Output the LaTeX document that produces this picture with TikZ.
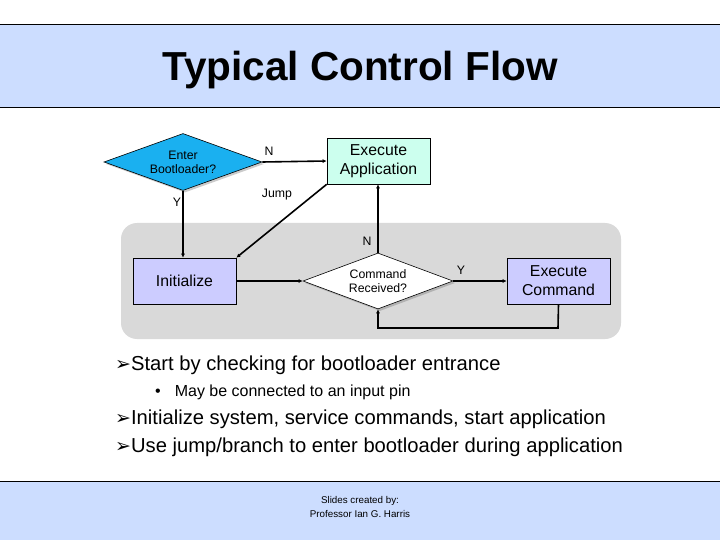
\documentclass[tikz,border=0pt]{standalone}
\usepackage{fontspec}
\setmainfont{Liberation Sans}
\newfontfamily\dejavu{DejaVu Sans}
\newcommand\arrmark{{\dejavu\fontsize{19}{22}\selectfont ➢}}
\usetikzlibrary{shapes.geometric,arrows.meta,shadows}
\definecolor{bandblue}{RGB}{204,221,255}
\definecolor{diamblue}{RGB}{26,176,240}
\definecolor{mint}{RGB}{204,255,238}
\definecolor{lav}{RGB}{204,204,255}
\definecolor{regiongray}{RGB}{217,217,217}
\tikzset{
  box/.style={draw=black, line width=0.6pt, minimum width=103pt, minimum height=46pt, inner sep=0pt, align=center, font=\fontsize{15.8}{19}\selectfont},
  dec/.style={diamond, draw=black, line width=0.6pt, inner sep=0pt, align=center, font=\fontsize{12.3}{14}\selectfont},
  conn/.style={line width=1.6pt, -{Latex[length=4pt,width=4pt]}},
  lbl/.style={font=\fontsize{12.3}{14}\selectfont, inner sep=0pt},
  bul/.style={anchor=west, inner sep=0pt, font=\fontsize{20.2}{24}\selectfont},
}
\begin{document}
\begin{tikzpicture}[x=1pt,y=-1pt]
\useasboundingbox (0,0) rectangle (720,540);
\fill[white] (0,0) rectangle (720,540);
% title band
\fill[bandblue] (0,24) rectangle (720,107);
\draw[line width=0.8pt] (0,24) -- (720,24) (0,107) -- (720,107);
\node[font=\fontsize{40.5}{46}\selectfont\bfseries] (title) at (360,70) {Typical Control Flow};
% bottom band
\fill[bandblue] (0,481) rectangle (720,540);
\draw[line width=0.8pt] (0,481) -- (720,481);
\node[align=center, font=\fontsize{9.8}{13.5}\selectfont] (credit) at (360,507) {Slides created by:\\Professor Ian G. Harris};
% gray region
\fill[regiongray, rounded corners=16pt] (121,223) rectangle (621,339);
% nodes
\node[dec, fill=diamblue, aspect=2.77, minimum width=158pt, minimum height=57pt,
      drop shadow={shadow xshift=2pt, shadow yshift=-2pt, fill=gray!80}] (enter) at (183,162) {Enter\\Bootloader?};
\node[box, fill=mint] (app) at (378.5,161) {Execute\\Application};
\node[box, fill=lav] (init) at (184.5,281) {Initialize};
\node[dec, fill=white, aspect=2.68, minimum width=150pt, minimum height=56pt,
      drop shadow={shadow xshift=2pt, shadow yshift=-2pt, fill=gray!90}] (cmd) at (378,281) {Command\\Received?};
\node[box, fill=lav] (exec) at (558.5,281) {Execute\\Command};
\coordinate (loopR) at (558,328);
\coordinate (loopL) at (378,328);
% connectors
\draw[conn] (enter.east) -- (app.west);
\draw[conn] (enter.south) -- (enter.south |- init.north);
\draw[conn] (app.south west) -- (init.north east);
\draw[conn] (cmd.north) -- (cmd.north |- app.south);
\draw[conn] (init.east) -- (cmd.west);
\draw[conn] (cmd.east) -- (exec.west);
\draw[conn] (exec.south) -- (loopR) -- (loopL) -- (cmd.south);
% labels
\node[lbl] (lN) at (269,151) {N};
\node[lbl] (lY) at (177,202) {Y};
\node[lbl] (lJ) at (277,195) {Jump};
\node[lbl] (lN2) at (367,241) {N};
\node[lbl] (lY2) at (461,270) {Y};
% bullets
\node[bul] (b1) at (115,365) {\arrmark Start by checking for bootloader entrance};
\node[bul, font=\fontsize{16}{20}\selectfont] (b2) at (155,392) {•\hspace{14pt}May be connected to an input pin};
\node[bul] (b3) at (115,419) {\arrmark Initialize system, service commands, start application};
\node[bul] (b4) at (115,447) {\arrmark Use jump/branch to enter bootloader during application};
\end{tikzpicture}
\end{document}
